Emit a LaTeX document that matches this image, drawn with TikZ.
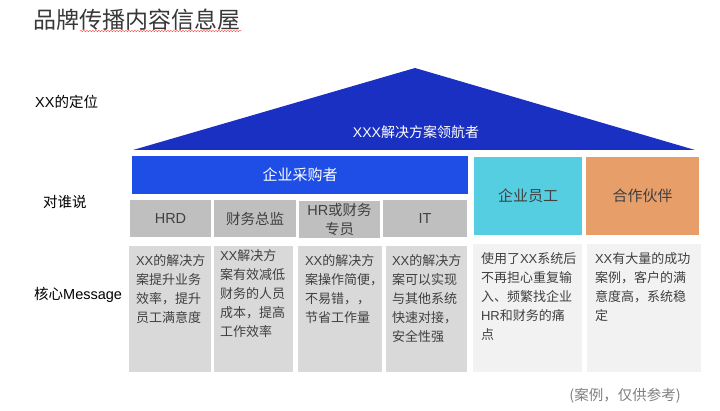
\documentclass[tikz,border=0pt]{standalone}
\usepackage{fontspec}
\setmainfont{Noto Sans CJK SC}
\newfontfamily\latfont{Liberation Sans}
\newcommand{\latn}[1]{{\latfont #1}}
\usetikzlibrary{decorations.pathmorphing}
\definecolor{roofblue}{HTML}{1A30C2}
\definecolor{barblue}{HTML}{1F4EE6}
\definecolor{cyanbox}{HTML}{56CEE2}
\definecolor{orangebox}{HTML}{E89E68}
\definecolor{hdrgray}{HTML}{BFBFBF}
\definecolor{bodygray}{HTML}{D9D9D9}
\definecolor{lightbody}{HTML}{F2F2F2}
\definecolor{txtgray}{HTML}{404040}
\tikzset{
  box/.style={inner sep=0pt, minimum height=#1, draw=none},
  hdr/.style={box=37pt, fill=hdrgray, text=txtgray, font=\fontsize{14.5}{19}\selectfont, align=center},
  body/.style={box=126pt, fill=bodygray},
  lbody/.style={box=128pt, fill=lightbody},
  bodytext/.style={anchor=north west, inner sep=0pt, align=left, text=txtgray, font=\fontsize{13}{19}\selectfont},
  rowlabel/.style={anchor=west, inner sep=0pt, text=black, font=\fontsize{14.5}{16}\selectfont}
}
\begin{document}
\begin{tikzpicture}[x=1pt,y=-1pt]
\useasboundingbox (0,0) rectangle (720,411);
% title
\node[anchor=west, inner sep=0pt, text=black!78, font=\fontsize{23}{25}\selectfont] (title) at (33,20) {品牌传播内容信息屋};
\coordinate (wl) at (80,31);
\coordinate (wr) at (242,31);
\draw[red!75, line width=0.4pt, decorate, decoration={snake, amplitude=0.7pt, segment length=3pt}] (wl) -- (wr);
% row labels
\node[rowlabel] (l1) at (35,102) {\latn{XX}的定位};
\node[rowlabel] (l2) at (43,202) {对谁说};
\node[rowlabel] (l3) at (34,295) {核心\latn{Message}};
% roof
\coordinate (rl) at (133,150);
\coordinate (rt) at (415,68);
\coordinate (rr) at (695,150);
\fill[roofblue] (rl) -- (rt) -- (rr) -- cycle;
\node[text=white, font=\fontsize{14}{16}\selectfont, inner sep=0pt] (rooftxt) at (416,132) {\latn{XXX}解决方案领航者};
% buyer bar
\node[box=38pt, minimum width=336pt, fill=barblue, text=white, font=\fontsize{15}{17}\selectfont] (bar) at (300,175) {企业采购者};
% header row
\node[hdr, minimum width=81pt] (h1) at (170.5,218.5) {\latn{HRD}};
\node[hdr, minimum width=82pt] (h2) at (255,218.5) {财务总监};
\node[hdr, minimum width=81pt] (h3) at (339.5,219.5) {\latn{HR}或财务\\专员};
\node[hdr, minimum width=84pt] (h4) at (425,218.5) {\latn{IT}};
% right headers
\node[box=78pt, minimum width=108pt, fill=cyanbox, text=txtgray, font=\fontsize{15}{17}\selectfont] (h5) at (528,196) {企业员工};
\node[box=78pt, minimum width=113pt, fill=orangebox, text=txtgray, font=\fontsize{15}{17}\selectfont] (h6) at (642.5,196) {合作伙伴};
% body boxes
\node[body, minimum width=82pt] (b1) at (170,309.5) {};
\node[body, minimum width=79pt] (b2) at (253.5,309.5) {};
\node[body, minimum width=84pt] (b3) at (340,309.5) {};
\node[body, minimum width=81pt] (b4) at (426.5,309.5) {};
\node[lbody, minimum width=109pt] (b5) at (527.5,308) {};
\node[lbody, minimum width=114pt] (b6) at (644,308) {};
% body texts
\node[bodytext] (t1) at ([shift={(7pt,-8.5pt)}]b1.north west) {\latn{XX}的解决方\\案提升业务\\效率，提升\\员工满意度};
\node[bodytext] (t2) at ([shift={(6pt,-3.5pt)}]b2.north west) {\latn{XX}解决方\\案有效减低\\财务的人员\\成本，提高\\工作效率};
\node[bodytext] (t3) at ([shift={(7pt,-8.5pt)}]b3.north west) {\latn{XX}的解决方\\案操作简便，\\不易错，，\\节省工作量};
\node[bodytext] (t4) at ([shift={(6pt,-8.5pt)}]b4.north west) {\latn{XX}的解决方\\案可以实现\\与其他系统\\快速对接，\\安全性强};
\node[bodytext] (t5) at ([shift={(8pt,-8.5pt)}]b5.north west) {使用了\latn{XX}系统后\\不再担心重复输\\入、频繁找企业\\\latn{HR}和财务的痛\\点};
\node[bodytext] (t6) at ([shift={(8pt,-8.5pt)}]b6.north west) {\latn{XX}有大量的成功\\案例，客户的满\\意度高，系统稳\\定};
% note
\node[inner sep=0pt, text=black!50, font=\fontsize{14.5}{16}\selectfont] (note) at (625,396) {(案例，仅供参考)};
\end{tikzpicture}
\end{document}
